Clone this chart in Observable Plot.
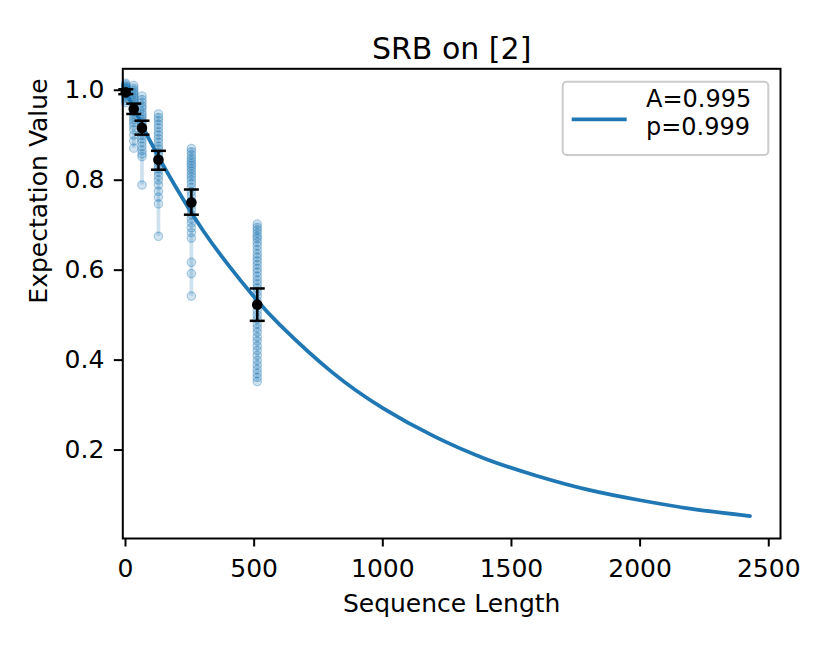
<!DOCTYPE html>
<html>
<head>
<meta charset="utf-8">
<script src="https://cdn.jsdelivr.net/npm/d3@7"></script>
<script src="https://cdn.jsdelivr.net/npm/@observablehq/plot@0.6"></script>
<style>
  body { margin: 0; background: #fff; }
  #chart svg { display: block; }
</style>
</head>
<body>
<div id="chart"></div>
<script>
// ---- data ----
const lengths = [1, 32, 64, 128, 256, 512];

const raw1   = [1.012, 1.009, 1.006, 1.004, 1.002, 1.0, 0.998, 0.997, 0.995, 0.993, 0.991, 0.989, 0.986, 0.983, 0.979, 0.974, 0.969];
const raw32  = [1.007, 1.001, 0.996, 0.991, 0.987, 0.982, 0.978, 0.973, 0.969, 0.964, 0.958, 0.953, 0.949, 0.944, 0.938, 0.931, 0.925, 0.918, 0.909, 0.897, 0.884, 0.868];
const raw64  = [0.984, 0.976, 0.969, 0.962, 0.957, 0.949, 0.943, 0.937, 0.931, 0.926, 0.92, 0.914, 0.907, 0.902, 0.896, 0.889, 0.881, 0.872, 0.863, 0.855, 0.849, 0.786];
const raw128 = [0.944, 0.936, 0.929, 0.921, 0.913, 0.904, 0.897, 0.889, 0.881, 0.872, 0.866, 0.858, 0.851, 0.843, 0.836, 0.829, 0.822, 0.815, 0.806, 0.797, 0.786, 0.772, 0.759, 0.744, 0.672];
const raw256 = [0.867, 0.86, 0.853, 0.846, 0.84, 0.834, 0.829, 0.823, 0.817, 0.81, 0.804, 0.797, 0.789, 0.78, 0.771, 0.762, 0.751, 0.741, 0.732, 0.721, 0.711, 0.702, 0.691, 0.68, 0.668, 0.614, 0.589, 0.539];
const raw512 = [0.699, 0.692, 0.686, 0.679, 0.672, 0.667, 0.659, 0.651, 0.642, 0.633, 0.625, 0.617, 0.609, 0.6, 0.592, 0.583, 0.574, 0.566, 0.557, 0.548, 0.539, 0.528, 0.518, 0.507, 0.497, 0.488, 0.477, 0.468, 0.459, 0.448, 0.439, 0.428, 0.418, 0.407, 0.396, 0.386, 0.376, 0.367, 0.358, 0.349];
const rawValues = [raw1, raw32, raw64, raw128, raw256, raw512];

const means = [0.992, 0.955, 0.913, 0.842, 0.747, 0.520];
const errLo = [0.988, 0.944, 0.898, 0.820, 0.720, 0.484];
const errHi = [0.999, 0.967, 0.929, 0.862, 0.776, 0.556];

const fitLengths = [1, 100, 200, 300, 400, 500, 600, 800, 1000, 1200, 1400, 1600, 1800, 2000, 2200, 2427];
const fitValues  = [0.994, 0.879, 0.777, 0.686, 0.608, 0.537, 0.475, 0.371, 0.290, 0.227, 0.177, 0.139, 0.108, 0.085, 0.066, 0.050];

const xTicks = [0, 500, 1000, 1500, 2000, 2500];
const yTicks = [0.2, 0.4, 0.6, 0.8, 1.0];

const titleText = "SRB on [2]";
const xLabel = "Sequence Length";
const yLabel = "Expectation Value";
const legendLines = ["A=0.995", "p=0.999"];

// ---- tables ----
const raw = lengths.flatMap((m, i) => rawValues[i].map(v => ({m, v})));
const summary = lengths.map((m, i) => ({
  m, mean: means[i], lo: errLo[i], hi: errHi[i],
  min: d3.min(rawValues[i]), max: d3.max(rawValues[i])
}));
const fit = fitLengths.map((m, i) => ({m, v: fitValues[i]}));

const blue = "#1f77b4";
const font = "'DejaVu Sans', sans-serif";
const capSymbol = { draw(ctx) { ctx.moveTo(-7.5, 0); ctx.lineTo(7.5, 0); } };

const chart = Plot.plot({
  width: 830,
  height: 646,
  marginLeft: 122.3,
  marginRight: 50,
  marginTop: 68.3,
  marginBottom: 108,
  style: {fontFamily: font, fontSize: "25px", color: "black", background: "white", overflow: "visible"},
  x: {domain: [-10.5, 2545.6]},
  y: {domain: [0, 1.0444]},
  marks: [
    Plot.ruleX(summary, {x: "m", y1: "min", y2: "max", stroke: blue, strokeOpacity: 0.22, strokeWidth: 3.75}),
    Plot.dot(raw, {x: "m", y: "v", r: 4.2, fill: blue, fillOpacity: 0.2, stroke: blue, strokeOpacity: 0.35, strokeWidth: 1.2}),
    Plot.line(fit, {x: "m", y: "v", stroke: blue, strokeWidth: 3.75, curve: "natural"}),
    Plot.ruleX(summary, {x: "m", y1: "lo", y2: "hi", stroke: "black", strokeWidth: 2.5}),
    Plot.dot(summary, {x: "m", y: "lo", symbol: capSymbol, stroke: "black", strokeWidth: 2.5, fill: "none"}),
    Plot.dot(summary, {x: "m", y: "hi", symbol: capSymbol, stroke: "black", strokeWidth: 2.5, fill: "none"}),
    Plot.dot(summary, {x: "m", y: "mean", r: 5.3, fill: "black", stroke: "none"}),
    Plot.frame({stroke: "black", strokeWidth: 2}),
    Plot.axisX({ticks: xTicks, tickSize: 8.5, tickPadding: 12.5, strokeWidth: 2, fontSize: 25, label: null, tickFormat: d3.format("d")}),
    Plot.axisY({ticks: yTicks, tickSize: 8.5, tickPadding: 10, strokeWidth: 2, fontSize: 25, label: null, dy: 1.5, tickFormat: d3.format(".1f")}),
    Plot.text([titleText], {frameAnchor: "top", lineAnchor: "bottom", dy: -10, fontSize: 30, fill: "black"}),
    Plot.text([xLabel], {frameAnchor: "bottom", lineAnchor: "bottom", dy: 73.7, fontSize: 25, fill: "black"}),
    Plot.text([yLabel], {frameAnchor: "left", lineAnchor: "bottom", rotate: -90, dx: -75.8, fontSize: 25, fill: "black"})
  ]
});

// ---- legend ----
const svg = d3.select(chart);
const lg = svg.append("g").attr("font-family", font).attr("font-size", 24).attr("text-anchor", "start");
lg.append("rect")
  .attr("x", 562.7).attr("y", 81.7).attr("width", 205.6).attr("height", 73.3)
  .attr("rx", 4).attr("fill", "white").attr("fill-opacity", 0.8)
  .attr("stroke", "#cccccc").attr("stroke-width", 2);
lg.append("line")
  .attr("x1", 571.7).attr("x2", 626.7).attr("y1", 119.3).attr("y2", 119.3)
  .attr("stroke", blue).attr("stroke-width", 3.75);
lg.selectAll("text.leg").data(legendLines).join("text")
  .attr("class", "leg")
  .attr("x", 646).attr("y", (d, i) => 106.5 + i * 28)
  .attr("text-anchor", "start")
  .attr("fill", "black")
  .text(d => d);

document.getElementById("chart").append(chart);
</script>
</body>
</html>
